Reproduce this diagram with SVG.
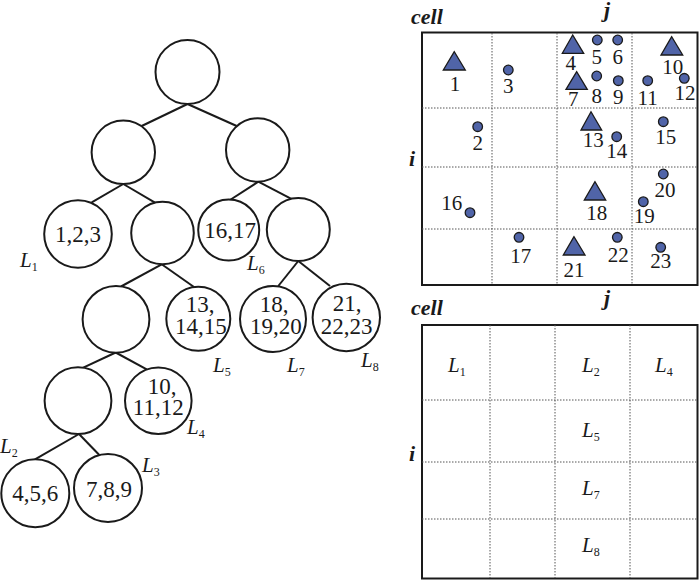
<svg xmlns="http://www.w3.org/2000/svg" width="700" height="580" viewBox="0 0 700 580">
<style>
.c{fill:#fff;stroke:#1a1a1a;stroke-width:2}
.e{stroke:#1a1a1a;stroke-width:2;fill:none}
.t{font-family:"Liberation Serif",serif;font-size:23px;fill:#1a1a1a;text-anchor:middle}
.n{font-family:"Liberation Serif",serif;font-size:21px;fill:#1a1a1a;text-anchor:middle}
.L{font-family:"Liberation Serif",serif;font-size:21px;font-style:italic;fill:#1a1a1a}
.s{font-size:12px;font-style:normal}
.h{font-family:"Liberation Serif",serif;font-size:22px;font-style:italic;font-weight:bold;fill:#1a1a1a}
.box{fill:#fff;stroke:#1a1a1a;stroke-width:2}
.dot{stroke:#555;stroke-width:1;stroke-dasharray:1.5 1.5;fill:none}
.tri{fill:#5064a8;stroke:#1a1a1a;stroke-width:1.3}
.pt{fill:#5064a8;stroke:#1a1a1a;stroke-width:1.3}
</style>
<rect width="700" height="580" fill="#fff"/>
<g id="connectors">
<line class="e" x1="187.5" y1="104" x2="141.7" y2="126"/>
<line class="e" x1="187.5" y1="104" x2="236.7" y2="126"/>
<line class="e" x1="123.3" y1="184" x2="91.7" y2="202.3"/>
<line class="e" x1="123.3" y1="184" x2="155" y2="202.7"/>
<line class="e" x1="258.3" y1="181.7" x2="230" y2="200"/>
<line class="e" x1="258.3" y1="181.7" x2="292.3" y2="199.3"/>
<line class="e" x1="161.7" y1="264.3" x2="121" y2="286.5"/>
<line class="e" x1="161.7" y1="264.3" x2="194" y2="287"/>
<line class="e" x1="298.3" y1="261" x2="278.3" y2="286"/>
<line class="e" x1="298.3" y1="261" x2="330" y2="286"/>
<line class="e" x1="115.7" y1="352.5" x2="81.7" y2="368.3"/>
<line class="e" x1="115.7" y1="352.5" x2="146.7" y2="369.3"/>
<line class="e" x1="79" y1="434" x2="35" y2="459.3"/>
<line class="e" x1="79" y1="434" x2="99.3" y2="455"/>
</g>
<g id="n0"><circle class="c" cx="187.5" cy="72" r="32"/></g>
<g id="n1"><circle class="c" cx="123.3" cy="152.3" r="31.7"/></g>
<g id="n2"><circle class="c" cx="257.7" cy="150" r="31.7"/></g>
<g id="n3"><circle class="c" cx="78" cy="234" r="33.8"/><text class="t" x="78" y="242">1,2,3</text><text class="L" x="20" y="267">L<tspan class="s" dy="4">1</tspan></text></g>
<g id="n4"><circle class="c" cx="162.5" cy="233" r="31.3"/></g>
<g id="n5"><circle class="c" cx="228.7" cy="230" r="30.5"/><text class="t" x="230" y="237.5">16,17</text><text class="L" x="247" y="270">L<tspan class="s" dy="4">6</tspan></text></g>
<g id="n6"><circle class="c" cx="298.3" cy="229.5" r="31.5"/></g>
<g id="n7"><circle class="c" cx="116" cy="319.3" r="33.4"/></g>
<g id="n8"><circle class="c" cx="198.3" cy="318.8" r="32"/><text class="t" x="200" y="311.7">13,</text><text class="t" x="200.8" y="333.5">14,15</text><text class="L" x="213" y="371.7">L<tspan class="s" dy="4">5</tspan></text></g>
<g id="n9"><circle class="c" cx="273" cy="319" r="33"/><text class="t" x="274" y="311.7">18,</text><text class="t" x="275.8" y="333.5">19,20</text><text class="L" x="287" y="371.7">L<tspan class="s" dy="4">7</tspan></text></g>
<g id="n10"><circle class="c" cx="346.3" cy="317.5" r="33.7"/><text class="t" x="347" y="311">21,</text><text class="t" x="346.5" y="333.5">22,23</text><text class="L" x="361" y="366.7">L<tspan class="s" dy="4">8</tspan></text></g>
<g id="n11"><circle class="c" cx="78" cy="400.7" r="33.4"/></g>
<g id="n12"><circle class="c" cx="158.3" cy="400.7" r="33.3"/><text class="t" x="162" y="394">10,</text><text class="t" x="158.3" y="415">11,12</text><text class="L" x="187" y="434">L<tspan class="s" dy="4">4</tspan></text></g>
<g id="n13"><circle class="c" cx="35.3" cy="493.2" r="34"/><text class="t" x="35.3" y="500.7">4,5,6</text><text class="L" x="0" y="453">L<tspan class="s" dy="4">2</tspan></text></g>
<g id="n14"><circle class="c" cx="108" cy="488" r="34"/><text class="t" x="109" y="496.7">7,8,9</text><text class="L" x="142" y="471.7">L<tspan class="s" dy="4">3</tspan></text></g>

<g id="grid-top">
<text class="h" x="411" y="24">cell</text>
<text class="h" x="604" y="17">j</text>
<text class="h" x="409" y="166">i</text>
<rect class="box" x="422" y="32.5" width="275.5" height="252.5"/>
<line class="dot" x1="492" y1="33" x2="492" y2="285"/>
<line class="dot" x1="557" y1="33" x2="557" y2="285"/>
<line class="dot" x1="632" y1="33" x2="632" y2="285"/>
<line class="dot" x1="422" y1="108" x2="697" y2="108"/>
<line class="dot" x1="422" y1="167" x2="697" y2="167"/>
<line class="dot" x1="422" y1="229" x2="697" y2="229"/>
<polygon class="tri" points="454.3,51.7 443.3,70 465.3,70"/><text class="n" x="455" y="90.7">1</text>
<circle class="pt" cx="508.3" cy="70" r="4.8"/><text class="n" x="508.3" y="93.3">3</text>
<polygon class="tri" points="572.7,35 562.3,53.3 583.7,53.3"/><text class="n" x="570.7" y="70">4</text>
<circle class="pt" cx="597.3" cy="40" r="4.8"/><text class="n" x="596.7" y="64">5</text>
<circle class="pt" cx="617.7" cy="40" r="4.8"/><text class="n" x="617.7" y="64">6</text>
<polygon class="tri" points="671.7,36.7 661,55 682.7,55"/><text class="n" x="672.7" y="74">10</text>
<polygon class="tri" points="576.7,71.7 566,89.3 587.3,89.3"/><text class="n" x="573.3" y="106">7</text>
<circle class="pt" cx="596.7" cy="76" r="4.8"/><text class="n" x="596.7" y="103.3">8</text>
<circle class="pt" cx="618.3" cy="80.7" r="4.8"/><text class="n" x="618.3" y="104.3">9</text>
<circle class="pt" cx="647.7" cy="80.7" r="4.8"/><text class="n" x="647.7" y="105">11</text>
<circle class="pt" cx="684.3" cy="78.3" r="4.8"/><text class="n" x="685" y="100">12</text>
<circle class="pt" cx="477.7" cy="126.7" r="4.8"/><text class="n" x="477.7" y="150">2</text>
<polygon class="tri" points="591,111.7 581,130 601.7,130"/><text class="n" x="593.3" y="147">13</text>
<circle class="pt" cx="616.7" cy="136.7" r="4.8"/><text class="n" x="616.7" y="158.3">14</text>
<circle class="pt" cx="663.3" cy="121.7" r="4.8"/><text class="n" x="665.7" y="144">15</text>
<circle class="pt" cx="470" cy="212.7" r="4.8"/><text class="n" x="451.7" y="210">16</text>
<polygon class="tri" points="595,181.7 584.3,200 605.7,200"/><text class="n" x="596.7" y="220">18</text>
<circle class="pt" cx="663.3" cy="174" r="4.8"/><text class="n" x="665" y="197.3">20</text>
<circle class="pt" cx="643.3" cy="201.7" r="4.8"/><text class="n" x="644.3" y="223.3">19</text>
<circle class="pt" cx="519" cy="237.3" r="4.8"/><text class="n" x="520.7" y="263.3">17</text>
<polygon class="tri" points="574,236.7 563.3,255 585,255"/><text class="n" x="574" y="276.7">21</text>
<circle class="pt" cx="617.3" cy="237.3" r="4.8"/><text class="n" x="618.3" y="261.7">22</text>
<circle class="pt" cx="660.7" cy="247.3" r="4.8"/><text class="n" x="660.7" y="268.3">23</text>
</g>

<g id="grid-bottom">
<text class="h" x="411" y="315">cell</text>
<text class="h" x="604" y="305">j</text>
<text class="h" x="409" y="461">i</text>
<rect class="box" x="422" y="325" width="275.5" height="253.5"/>
<line class="dot" x1="490" y1="325" x2="490" y2="578"/>
<line class="dot" x1="555" y1="325" x2="555" y2="578"/>
<line class="dot" x1="630" y1="325" x2="630" y2="578"/>
<line class="dot" x1="422" y1="400" x2="697" y2="400"/>
<line class="dot" x1="422" y1="462" x2="697" y2="462"/>
<line class="dot" x1="422" y1="519" x2="697" y2="519"/>
<text class="L" x="448" y="371.7">L<tspan class="s" dy="4">1</tspan></text>
<text class="L" x="582" y="371.7">L<tspan class="s" dy="4">2</tspan></text>
<text class="L" x="655" y="371.7">L<tspan class="s" dy="4">4</tspan></text>
<text class="L" x="582" y="436.7">L<tspan class="s" dy="4">5</tspan></text>
<text class="L" x="582" y="495">L<tspan class="s" dy="4">7</tspan></text>
<text class="L" x="582" y="551.7">L<tspan class="s" dy="4">8</tspan></text>
</g>
</svg>
